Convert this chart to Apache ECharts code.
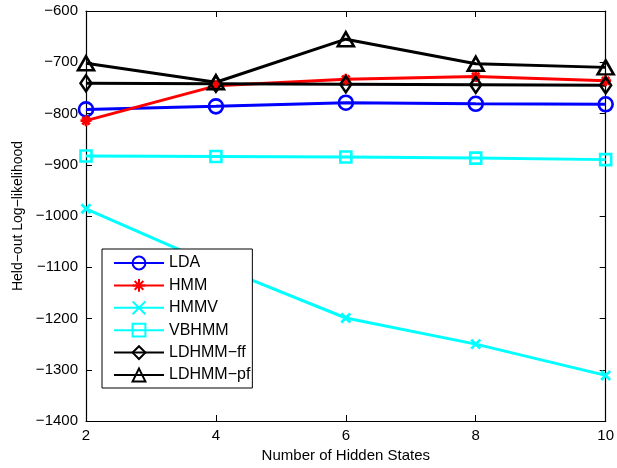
<!DOCTYPE html>
<html><head><meta charset="utf-8">
<script src="https://cdn.jsdelivr.net/npm/echarts@6/dist/echarts.min.js"></script>
<style>html,body{margin:0;padding:0;background:#fff}#c{width:617px;height:468px}</style>
</head><body><div id="c"></div>
<script>
var hiddenStates = [2, 4, 6, 8, 10];
var lda = [-792, -786, -779, -781, -782];
var hmm = [-814, -746, -733, -728, -736];
var hmmv = [-986, -1097, -1199, -1250, -1311];
var vbhmm = [-883, -884, -885, -887, -890];
var ldhmmFf = [-741, -742, -743, -744, -745];
var ldhmmPf = [-702, -739, -655, -703, -710];
var seriesNames = ['LDA', 'HMM', 'HMMV', 'VBHMM', 'LDHMM\u2212ff', 'LDHMM\u2212pf'];

var FONT = 'Liberation Sans, Arial, Helvetica, sans-serif';
function pairs(v){ return hiddenStates.map(function(x,i){ return [x, v[i]]; }); }
var ASTER = 'path://M5 0L5 10M0 5L10 5M1.6 1.6L8.4 8.4M8.4 1.6L1.6 8.4';
var XMARK = 'path://M0 0L10 10M10 0L0 10';

function mk(name, data, color, symbol, size, bw){
  return {
    name: name, type: 'line', data: pairs(data),
    symbol: symbol, symbolSize: size, showSymbol: true,
    lineStyle: {color: color, width: 3},
    itemStyle: {color: 'transparent', borderColor: color, borderWidth: bw},
    emphasis: {disabled: true}, animation: false
  };
}
var tickStyle = {color: '#000', fontSize: 15, fontFamily: FONT};
function fmt(v){ return String(v).replace('-', '\u2212'); }
var axisLineStyle = {show: true, lineStyle: {color: '#000', width: 1.2}};
var tickIn = {show: true, inside: true, length: 6, lineStyle: {color: '#000'}};

var option = {
  backgroundColor: '#fff',
  animation: false,
  grid: {left: 86, right: 11, top: 11, bottom: 47, containLabel: false},
  legend: {
    orient: 'vertical', left: 102, top: 249,
    data: seriesNames,
    backgroundColor: '#fff', borderColor: '#000', borderWidth: 1, borderRadius: 0,
    padding: [6, 2, 5, 11], itemGap: 6.4, itemWidth: 50, itemHeight: 16,
    textStyle: {color: '#000', fontSize: 16, fontFamily: FONT},
    selectedMode: false
  },
  xAxis: [{
    type: 'value', min: 2, max: 10, interval: 2, position: 'bottom',
    name: 'Number of Hidden States', nameLocation: 'middle', nameGap: 26,
    nameTextStyle: {color: '#000', fontSize: 15, fontFamily: FONT},
    axisLine: axisLineStyle, axisTick: tickIn,
    axisLabel: Object.assign({margin: 7}, tickStyle),
    splitLine: {show: false}
  }, {
    type: 'value', min: 2, max: 10, interval: 2, position: 'top',
    axisLine: axisLineStyle, axisTick: tickIn,
    axisLabel: {show: false}, splitLine: {show: false}
  }],
  yAxis: [{
    type: 'value', min: -1400, max: -600, interval: 100, position: 'left',
    name: 'Held\u2212out Log\u2212likelihood', nameLocation: 'middle', nameGap: 61,
    nameTextStyle: {color: '#000', fontSize: 14, fontFamily: FONT},
    axisLine: axisLineStyle, axisTick: tickIn,
    axisLabel: Object.assign({margin: 8, formatter: fmt}, tickStyle),
    splitLine: {show: false}
  }, {
    type: 'value', min: -1400, max: -600, interval: 100, position: 'right',
    axisLine: axisLineStyle, axisTick: tickIn,
    axisLabel: {show: false}, splitLine: {show: false}
  }],
  series: [
    mk(seriesNames[0], lda, '#0000ff', 'circle', 14, 2.6),
    mk(seriesNames[1], hmm, '#ff0000', ASTER, 11, 2.8),
    mk(seriesNames[2], hmmv, '#00ffff', XMARK, 9, 2.8),
    mk(seriesNames[3], vbhmm, '#00ffff', 'rect', 11, 2.6),
    mk(seriesNames[4], ldhmmFf, '#000000', 'diamond', [11, 16], 2.6),
    mk(seriesNames[5], ldhmmPf, '#000000', 'triangle', [16, 14], 2.6)
  ]
};
var chart = echarts.init(document.getElementById('c'), null, {renderer: 'canvas'});
chart.setOption(option);
</script></body></html>
